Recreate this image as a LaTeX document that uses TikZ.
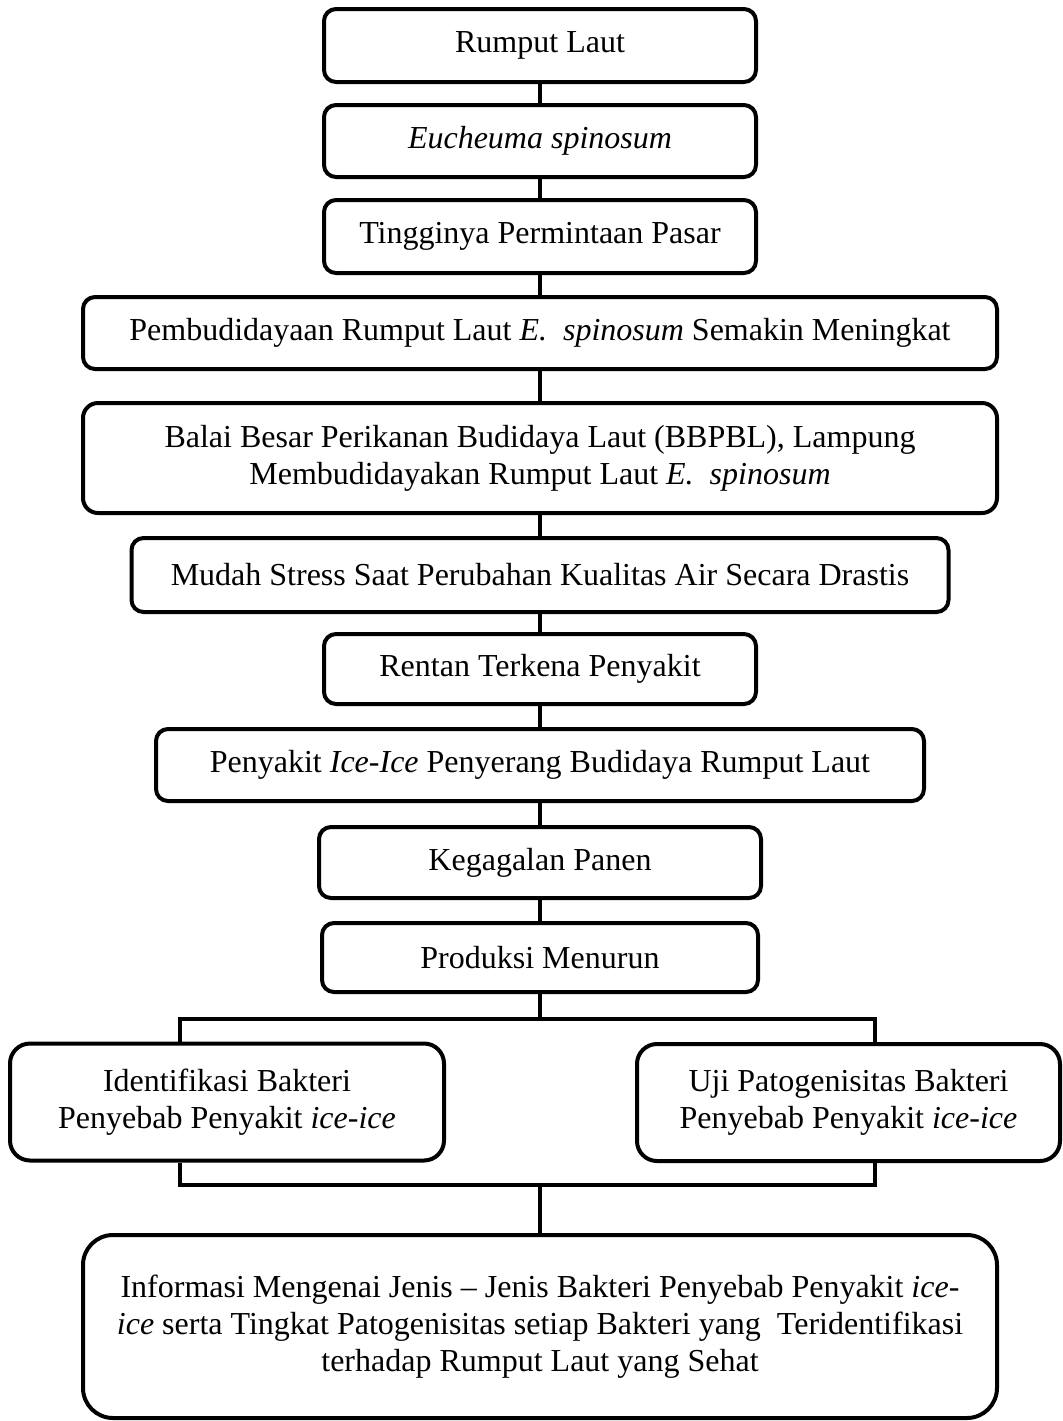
\documentclass[tikz,border=0pt]{standalone}
\usepackage{fontspec}
\setmainfont{Liberation Serif}

\begin{document}
\begin{tikzpicture}[x=0.5pt, y=-0.5pt,
	box/.style={draw, line width=2pt, rounded corners=6pt, align=center, inner sep=0pt,
		font=\fontsize{16}{18.5}\selectfont},
	link/.style={line width=1.8pt, line join=miter}]
	\useasboundingbox (0,0) rectangle (1062,1421);

	% main chain
	\node[box, minimum width=216pt, minimum height=36.5pt] (rumput) at (540,45.5) {Rumput Laut};
	\node[box, minimum width=216pt, minimum height=36pt] (eucheuma) at (540,141) {\textit{Eucheuma spinosum}};
	\node[box, minimum width=216pt, minimum height=36.5pt] (pasar) at (540,236.5) {Tingginya Permintaan Pasar};
	\node[box, minimum width=457pt, minimum height=36pt] (budidaya) at (540,333) {Pembudidayaan Rumput Laut \textit{E.~~spinosum} Semakin Meningkat};
	\node[box, rounded corners=7.5pt, minimum width=457pt, minimum height=55pt] (balai) at (540,458) {Balai Besar Perikanan Budidaya Laut (BBPBL), Lampung\\Membudidayakan Rumput Laut \textit{E.~~spinosum}};
	\node[box, minimum width=408.5pt, minimum height=37pt] (stress) at (540,575) {Mudah Stress Saat Perubahan Kualitas Air Secara Drastis};
	\node[box, minimum width=216pt, minimum height=35pt] (rentan) at (540,669) {Rentan Terkena Penyakit};
	\node[box, minimum width=384pt, minimum height=36pt] (iceice) at (540,765) {Penyakit \textit{Ice-Ice} Penyerang Budidaya Rumput Laut};
	\node[box, minimum width=221pt, minimum height=35.5pt] (gagal) at (540,862.5) {Kegagalan Panen};
	\node[box, minimum width=218pt, minimum height=34.5pt] (produksi) at (540,957.5) {Produksi Menurun};

	\foreach \a/\b in {rumput/eucheuma, eucheuma/pasar, pasar/budidaya, budidaya/balai, balai/stress,
		stress/rentan, rentan/iceice, iceice/gagal, gagal/produksi}{
		\draw[link] (\a) -- (\b);
	}

	% two branches
	\node[box, rounded corners=10pt, minimum width=217pt, minimum height=58.5pt] (identifikasi) at (227,1102) {Identifikasi Bakteri\\Penyebab Penyakit \textit{ice-ice}};
	\node[box, rounded corners=10pt, minimum width=211.5pt, minimum height=58.5pt] (uji) at (848.5,1102.5) {Uji Patogenisitas Bakteri\\Penyebab Penyakit \textit{ice-ice}};

	\coordinate (split) at (540,1019);
	\coordinate (splitL) at (180,1019);
	\coordinate (splitR) at (875,1019);
	\coordinate (joinL) at (180,1185);
	\coordinate (joinR) at (875,1185);
	\coordinate (join) at (540,1185);

	\draw[link] (produksi) -- (split);
	\draw[link] (splitL |- identifikasi.north) -- (splitL) -- (splitR) -- (splitR |- uji.north);
	\draw[link] (joinL |- identifikasi.south) -- (joinL) -- (joinR) -- (joinR |- uji.south);

	% result
	\node[box, rounded corners=15pt, minimum width=457pt, minimum height=91.5pt] (info) at (540,1326.5) {Informasi Mengenai Jenis -- Jenis Bakteri Penyebab Penyakit \textit{ice-}\\\textit{ice} serta Tingkat Patogenisitas setiap Bakteri yang~~Teridentifikasi\\terhadap Rumput Laut yang Sehat};
	\draw[link] (join) -- (info);
\end{tikzpicture}
\end{document}
